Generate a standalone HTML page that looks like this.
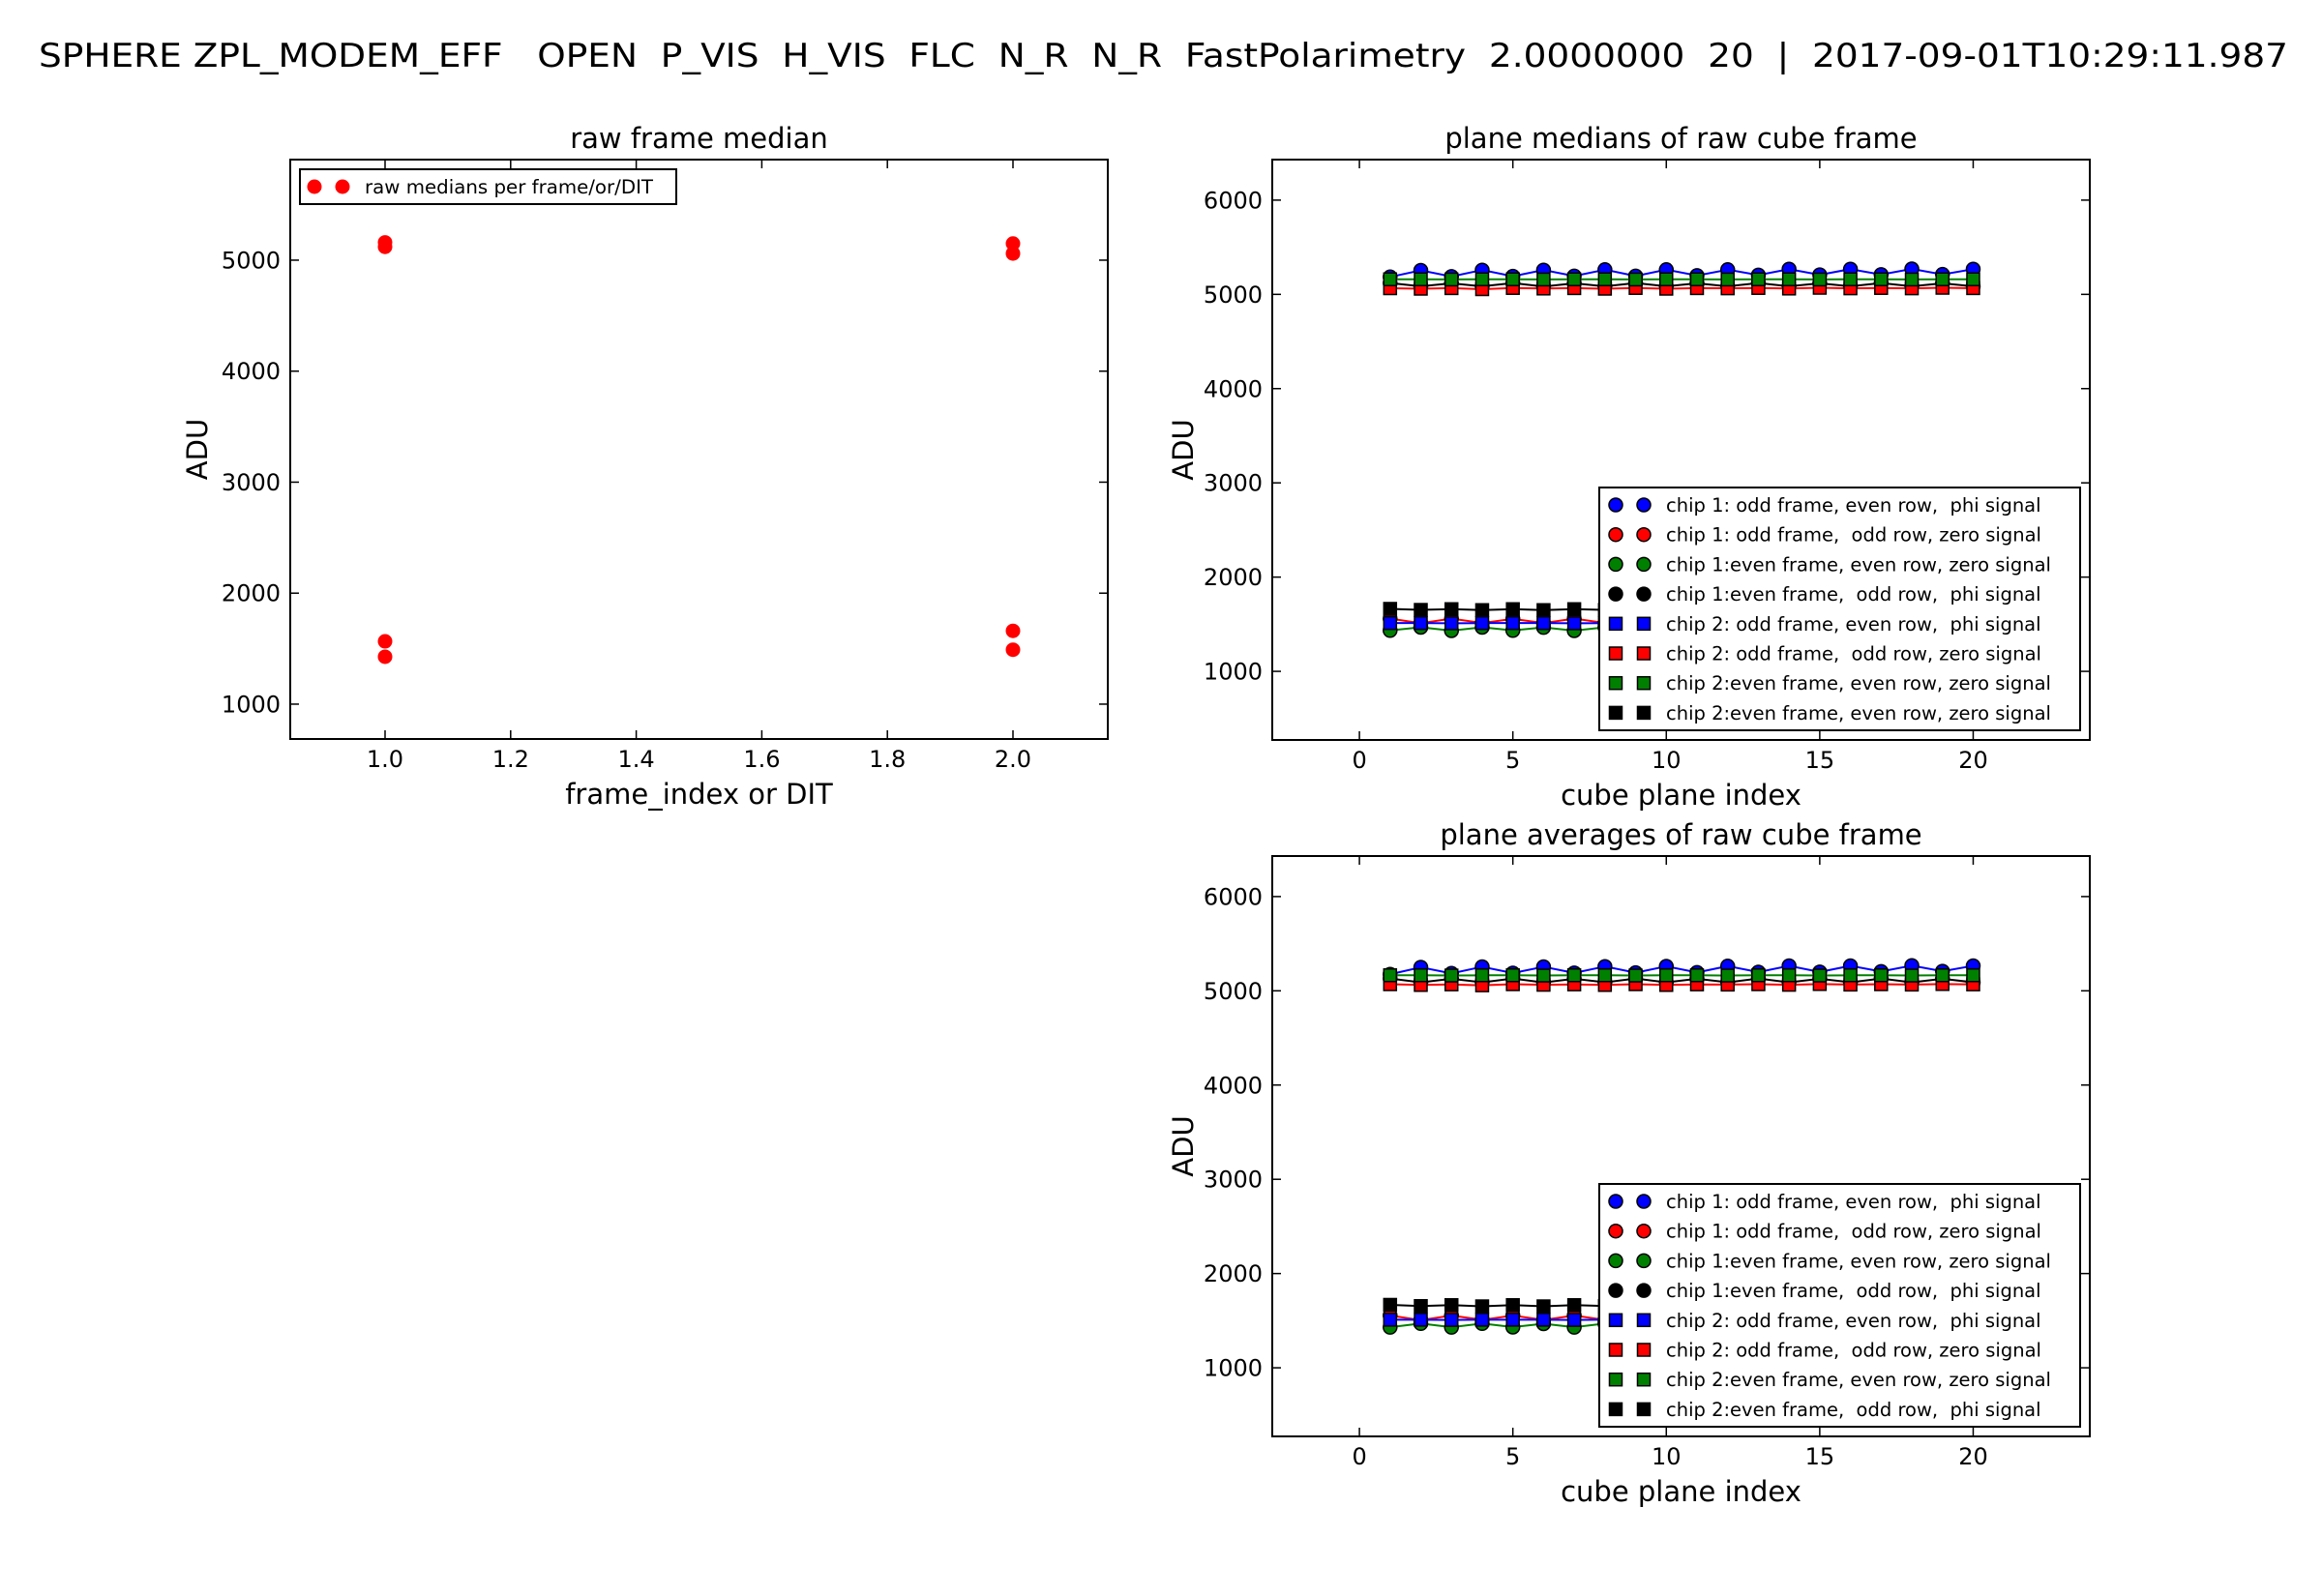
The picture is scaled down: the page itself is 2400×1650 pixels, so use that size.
<!DOCTYPE html>
<html><head><meta charset="utf-8"><title>SPHERE ZPL chart</title>
<style>
html,body{margin:0;padding:0;background:#fff;}
svg{display:block;}
text{font-family:"DejaVu Sans","Liberation Sans",sans-serif;fill:#000;white-space:pre;}
</style></head>
<body>
<svg id="fig" width="2400" height="1650" viewBox="0 0 2400 1650" xmlns="http://www.w3.org/2000/svg">
<rect width="2400" height="1650" fill="#fff"/>
<text x="40" y="69" font-size="34" textLength="2325" lengthAdjust="spacingAndGlyphs" xml:space="preserve">SPHERE ZPL_MODEM_EFF   OPEN  P_VIS  H_VIS  FLC  N_R  N_R  FastPolarimetry  2.0000000  20  |  2017-09-01T10:29:11.987</text>
<g id="p1"></g>
<g id="p2"></g>
<g id="p3"></g>
</svg>
<script>
// ---- data: raw frame median ----
const frameX = [1, 1, 1, 1, 2, 2, 2, 2];
const frameMedians = [5160, 5120, 1566, 1427, 5150, 5060, 1660, 1490];
const frameXTicks = [1.0, 1.2, 1.4, 1.6, 1.8, 2.0];
const frameXTickLabels = ["1.0", "1.2", "1.4", "1.6", "1.8", "2.0"];
const frameYTicks = [1000, 2000, 3000, 4000, 5000];

// ---- data: cube planes ----
const planeIdx = [1,2,3,4,5,6,7,8,9,10,11,12,13,14,15,16,17,18,19,20];
const seriesLabels = [
 "chip 1: odd frame, even row,  phi signal",
 "chip 1: odd frame,  odd row, zero signal",
 "chip 1:even frame, even row, zero signal",
 "chip 1:even frame,  odd row,  phi signal",
 "chip 2: odd frame, even row,  phi signal",
 "chip 2: odd frame,  odd row, zero signal",
 "chip 2:even frame, even row, zero signal",
 "chip 2:even frame, even row, zero signal"];
const seriesLabelsAvg = seriesLabels.slice(0,7).concat(["chip 2:even frame,  odd row,  phi signal"]);
const seriesColors = ["#0000ff","#ff0000","#008000","#000000","#0000ff","#ff0000","#008000","#000000"];
const seriesMarkers = ["o","o","o","o","s","s","s","s"];

const medC1Blue  = [5185,5255,5190,5258,5192,5258,5195,5262,5195,5262,5200,5262,5205,5268,5208,5268,5210,5270,5212,5268];
const medC1Red   = [1560,1510,1560,1512,1558,1512,1560,1512,1558,1510,1560,1512,1558,1512,1560,1510,1558,1512,1560,1512];
const medC1Green = [1434,1468,1432,1468,1434,1466,1432,1468,1434,1468,1432,1466,1434,1468,1432,1468,1434,1466,1432,1468];
const medC1Black = [5120,5085,5118,5085,5120,5083,5118,5085,5120,5085,5118,5085,5120,5085,5118,5085,5120,5085,5118,5085];
const medC2Blue  = [1512,1512,1510,1512,1512,1512,1510,1512,1512,1512,1510,1512,1512,1512,1510,1512,1512,1512,1510,1512];
const medC2Red   = [5065,5060,5066,5055,5068,5062,5066,5060,5068,5060,5066,5064,5068,5062,5070,5064,5068,5064,5070,5066];
const medC2Green = [5160,5160,5158,5160,5160,5158,5160,5160,5158,5160,5160,5158,5160,5160,5158,5160,5160,5158,5160,5160];
const medC2Black = [1663,1652,1660,1650,1660,1650,1660,1652,1660,1650,1660,1650,1660,1652,1660,1650,1660,1650,1660,1652];

const avgC1Blue  = [5175,5250,5185,5255,5188,5255,5190,5258,5192,5260,5195,5262,5198,5265,5200,5265,5205,5268,5208,5265];
const avgC1Red   = [1555,1505,1555,1508,1555,1508,1555,1508,1555,1508,1555,1508,1555,1508,1555,1508,1555,1508,1555,1508];
const avgC1Green = [1430,1470,1430,1470,1432,1468,1430,1470,1432,1468,1430,1470,1432,1468,1430,1470,1432,1468,1430,1470];
const avgC1Black = [5130,5090,5128,5090,5130,5088,5128,5090,5130,5090,5128,5090,5130,5090,5128,5090,5130,5090,5128,5090];
const avgC2Blue  = [1510,1510,1508,1510,1510,1510,1508,1510,1510,1510,1508,1510,1510,1510,1508,1510,1510,1510,1508,1510];
const avgC2Red   = [5070,5062,5068,5058,5070,5064,5068,5062,5070,5062,5068,5066,5070,5064,5072,5066,5070,5066,5072,5068];
const avgC2Green = [5165,5165,5162,5165,5165,5162,5165,5165,5162,5165,5165,5162,5165,5165,5162,5165,5165,5162,5165,5165];
const avgC2Black = [1668,1655,1665,1652,1665,1652,1665,1655,1665,1652,1665,1652,1665,1655,1665,1652,1665,1652,1665,1655];

const planeXTicks = [0, 5, 10, 15, 20];
const planeYTicks = [1000, 2000, 3000, 4000, 5000, 6000];

const NS = "http://www.w3.org/2000/svg";
function el(tag, attrs, parent, txt){
  const e = document.createElementNS(NS, tag);
  for (const k in attrs) e.setAttribute(k, attrs[k]);
  if (txt !== undefined) e.textContent = txt;
  parent.appendChild(e);
  return e;
}
function makeAxis(L,T,R,B,x0,x1,y0,y1){
  return {L,T,R,B,
    sx:v=>L+(v-x0)/(x1-x0)*(R-L),
    sy:v=>B-(v-y0)/(y1-y0)*(B-T)};
}
function drawFrame(g, ax, xt, xtl, yt, ylblX, title, xlabel){
  xt.forEach((v,i)=>{
    const x = ax.sx(v);
    const t1 = el("line",{x1:x,y1:ax.B,x2:x,y2:ax.B-9,stroke:"#000","stroke-width":1.5},g);
    
    
    el("line",{x1:x,y1:ax.T,x2:x,y2:ax.T+9,stroke:"#000","stroke-width":1.5},g);
    const lb = el("text",{x:x,y:ax.B+29,"font-size":24,"text-anchor":"middle"},g,xtl[i]);
    
    
  });
  yt.forEach(v=>{
    const y = ax.sy(v);
    const t1 = el("line",{x1:ax.L,y1:y,x2:ax.L+9,y2:y,stroke:"#000","stroke-width":1.5},g);
    
    
    el("line",{x1:ax.R,y1:y,x2:ax.R-9,y2:y,stroke:"#000","stroke-width":1.5},g);
    const lb = el("text",{x:ax.L-10,y:y+8.5,"font-size":24,"text-anchor":"end"},g,String(v));
    
    
  });
  const fr = el("rect",{x:ax.L,y:ax.T,width:ax.R-ax.L,height:ax.B-ax.T,fill:"none",stroke:"#000","stroke-width":2},g);
  
  
  const tt = el("text",{x:(ax.L+ax.R)/2,y:ax.T-12,"font-size":29,"text-anchor":"middle"},g,title);
  
  
  const xl = el("text",{x:(ax.L+ax.R)/2,y:ax.B+67,"font-size":29,"text-anchor":"middle"},g,xlabel);
  
  
  const cy=(ax.T+ax.B)/2;
  const yl = el("text",{x:ylblX,y:cy,"font-size":29,"text-anchor":"middle",transform:"rotate(-90 "+ylblX+" "+cy+")"},g,"ADU");
  
  
}
function marker(g, kind, x, y, color, edge){
  if (kind==="o"){
    return el("circle",{cx:x,cy:y,r:7,fill:color,stroke:edge,"stroke-width":1.5},g);
  }
  return el("rect",{x:x-6.5,y:y-6.5,width:13,height:13,fill:color,stroke:edge,"stroke-width":1.5},g);
}

// ---- panel 1 ----
(function(){
  const g = document.getElementById("p1");
  const ax = makeAxis(300,165,1145,764,0.849,2.151,686,5906);
  drawFrame(g, ax, frameXTicks, frameXTickLabels, frameYTicks, 214, "raw frame median", "frame_index or DIT");
  frameMedians.forEach((v,i)=>{
    const m = el("circle",{cx:ax.sx(frameX[i]),cy:ax.sy(v),r:7.5,fill:"#ff0000"},g);
    
    
  });
  const lg = el("g",{},g);
  
  
  el("rect",{x:310,y:175,width:389,height:36,fill:"#fff",stroke:"#000","stroke-width":2},lg);
  el("circle",{cx:325,cy:193,r:7.5,fill:"#ff0000"},lg);
  el("circle",{cx:354,cy:193,r:7.5,fill:"#ff0000"},lg);
  const t = el("text",{x:377,y:200,"font-size":19.8},lg,"raw medians per frame/or/DIT");
  
  
})();

function planePanel(gid, T, B, title, series, labels){
  const g = document.getElementById(gid);
  const ax = makeAxis(1315,T,2160,B,-2.84,23.8,272,6430);
  drawFrame(g, ax, planeXTicks, planeXTicks.map(String), planeYTicks, 1233, title, "cube plane index");
  series.forEach((vals,s)=>{
    const sg = el("g",{},g);
    
    
    const pts = vals.map((v,i)=>ax.sx(planeIdx[i])+","+ax.sy(v)).join(" ");
    el("polyline",{points:pts,fill:"none",stroke:seriesColors[s],"stroke-width":2},sg);
    vals.forEach((v,i)=>{
      const m = marker(sg, seriesMarkers[s], ax.sx(planeIdx[i]), ax.sy(v), seriesColors[s], "#000");
      
      
    });
  });
  const off = T-165;
  const lg = el("g",{},g);
  
  
  el("rect",{x:1653,y:504+off,width:497,height:251,fill:"#fff",stroke:"#000","stroke-width":2},lg);
  labels.forEach((lab,i)=>{
    const y = 522+off+i*30.7;
    marker(lg, seriesMarkers[i], 1670, y, seriesColors[i], "#000");
    marker(lg, seriesMarkers[i], 1699, y, seriesColors[i], "#000");
    const t = el("text",{x:1722,y:y+7,"font-size":19.5},lg,lab);
    
    
  });
}
planePanel("p2",165,765,"plane medians of raw cube frame",
  [medC1Blue,medC1Red,medC1Green,medC1Black,medC2Blue,medC2Red,medC2Green,medC2Black], seriesLabels);
planePanel("p3",885,1485,"plane averages of raw cube frame",
  [avgC1Blue,avgC1Red,avgC1Green,avgC1Black,avgC2Blue,avgC2Red,avgC2Green,avgC2Black], seriesLabelsAvg);
</script>
</body></html>
